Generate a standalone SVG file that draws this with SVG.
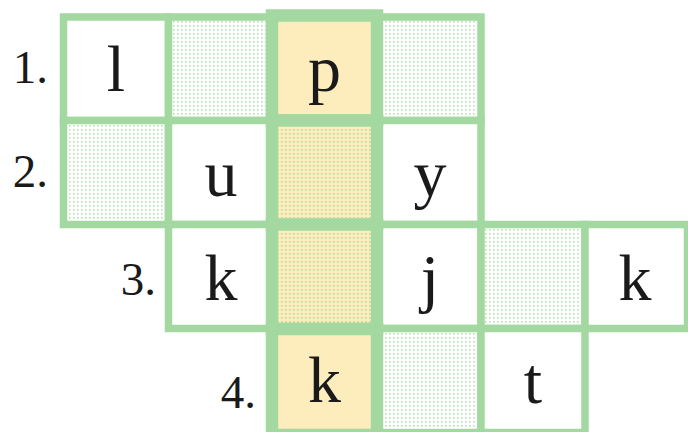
<svg xmlns="http://www.w3.org/2000/svg" width="688" height="432" viewBox="0 0 688 432">
<defs>
<pattern id="dots" width="4" height="4" patternUnits="userSpaceOnUse">
<rect x="1.2" y="1.2" width="1.3" height="1.3" fill="#8fd48c"/>
</pattern>
<style>
.cell{stroke:#a3d9a0;stroke-width:7.5}
.hi{stroke:#a3d9a0;stroke-width:12.5}
.w{fill:#ffffff}
.d{fill:url(#dots)}
.y{fill:#fdedbd}
.ch{font-family:"Liberation Serif","Times New Roman",serif;font-size:66px;fill:#1a1a1a;text-anchor:middle}
.lb{font-family:"Liberation Serif","Times New Roman",serif;font-size:47px;fill:#1a1a1a;text-anchor:end}
</style>
</defs>
<rect width="688" height="432" fill="#ffffff"/>
<g id="labels">
<text class="lb" x="48" y="83">1.</text>
<text class="lb" x="48" y="187">2.</text>
<text class="lb" x="156" y="295">3.</text>
<text class="lb" x="256" y="408">4.</text>
</g>
<g id="row1">
<g id="r1c1"><rect class="cell w" x="63.5" y="17" width="105" height="103.5"/><text class="ch" x="116" y="91">l</text></g>
<g id="r1c2"><rect class="cell w" x="168.5" y="17" width="103.5" height="103.5"/><rect class="d" x="172" y="21" width="95" height="95"/></g>
<g id="r1c4"><rect class="cell w" x="377" y="17" width="104" height="103.5"/><rect class="d" x="383" y="21" width="94" height="95"/></g>
</g>
<g id="row2">
<g id="r2c1"><rect class="cell w" x="63.5" y="120.5" width="105" height="104"/><rect class="d" x="67" y="124" width="98" height="97"/></g>
<g id="r2c2"><rect class="cell w" x="168.5" y="120.5" width="103.5" height="104"/><text class="ch" x="221" y="196">u</text></g>
<g id="r2c4"><rect class="cell w" x="377" y="120.5" width="104" height="104"/><text class="ch" x="430" y="196">y</text></g>
</g>
<g id="row3">
<g id="r3c2"><rect class="cell w" x="168.5" y="224.5" width="103.5" height="104"/><text class="ch" x="221" y="300">k</text></g>
<g id="r3c4"><rect class="cell w" x="377" y="224.5" width="104" height="104"/><text class="ch" x="430" y="300">j</text></g>
<g id="r3c5"><rect class="cell w" x="481" y="224.5" width="104" height="104"/><rect class="d" x="485" y="228" width="96" height="97"/></g>
<g id="r3c6"><rect class="cell w" x="585" y="224.5" width="102.5" height="104"/><text class="ch" x="635" y="300">k</text></g>
</g>
<g id="row4">
<g id="r4c4"><rect class="cell w" x="377" y="328.5" width="104" height="104"/><rect class="d" x="383" y="332" width="94" height="96"/></g>
<g id="r4c5"><rect class="cell w" x="481" y="328.5" width="104" height="104"/><text class="ch" x="533" y="403">t</text></g>
</g>
<g id="column3">
<g id="r1c3"><rect class="hi y" x="272" y="15.5" width="105" height="105"/><text class="ch" x="324.5" y="91">p</text></g>
<g id="r2c3"><rect class="hi y" x="272" y="120.5" width="105" height="104"/><rect class="d" x="278" y="127" width="93" height="91"/></g>
<g id="r3c3"><rect class="hi y" x="272" y="224.5" width="105" height="104.5"/><rect class="d" x="278" y="231" width="93" height="92"/></g>
<g id="r4c3"><rect class="hi y" x="272" y="329" width="105" height="106"/><text class="ch" x="324.5" y="402">k</text></g>
</g>
</svg>
